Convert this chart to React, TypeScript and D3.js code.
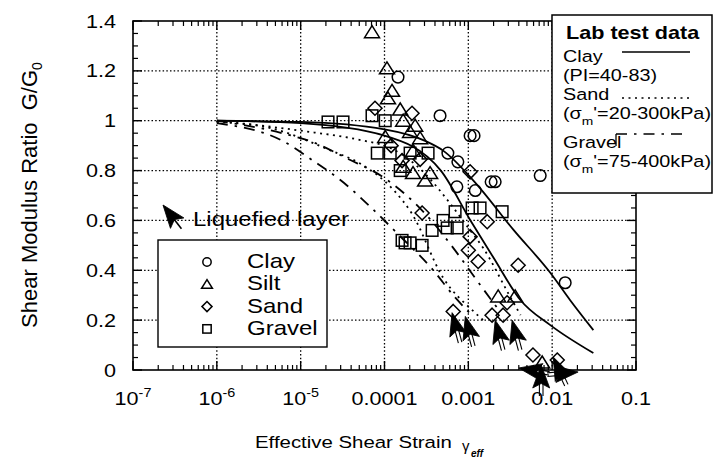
import React from 'react';
import * as d3 from 'd3';

type P = [number, number];

// ---------- axis ticks ----------
const xTickValues = [1e-7, 1e-6, 1e-5, 1e-4, 1e-3, 1e-2, 1e-1];
const xTickBase = ['10', '10', '10', '0.0001', '0.001', '0.01', '0.1'];
const xTickExp = ['-7', '-6', '-5', '', '', '', ''];
const yTickValues = [0, 0.2, 0.4, 0.6, 0.8, 1.0, 1.2, 1.4];
const yTickLabels = ['0', '0.2', '0.4', '0.6', '0.8', '1', '1.2', '1.4'];
const xGridValues = [1e-6, 1e-5, 1e-4, 1e-3, 1e-2];
const yGridValues = [0.2, 0.4, 0.6, 0.8, 1.0, 1.2];

// ---------- field data (effective strain, G/G0) ----------
const clayPoints: P[] = [
  [1.45e-4, 1.175], [4.6e-4, 1.02], [1.05e-3, 0.94], [1.17e-3, 0.94],
  [1.87e-3, 0.755], [2.09e-3, 0.755], [7.2e-3, 0.78], [5.7e-4, 0.87],
  [7.5e-4, 0.835], [7.3e-4, 0.735], [1.21e-3, 0.72], [1.43e-2, 0.35],
];
const siltPoints: P[] = [
  [7.1e-5, 1.355], [1.07e-4, 1.21], [1.23e-4, 1.12], [1.1e-4, 1.09],
  [1.54e-4, 1.045], [1.67e-4, 1.0], [2.32e-4, 0.98], [2.02e-4, 0.955],
  [1.02e-4, 0.935], [2.66e-4, 0.93], [2.19e-4, 0.88], [1.67e-4, 0.815],
  [2.19e-4, 0.79], [3.05e-4, 0.76], [3.5e-4, 0.79], [2.27e-3, 0.295],
  [3.62e-3, 0.295], [7.6e-3, 0.03],
];
const sandPoints: P[] = [
  [7.7e-5, 1.05], [2.13e-4, 1.03], [1.62e-4, 0.84], [2.66e-4, 0.845],
  [2.81e-4, 0.63], [1.05e-3, 0.795], [1.68e-3, 0.595], [1.05e-3, 0.535],
  [1.0e-3, 0.48], [1.31e-3, 0.435], [3.93e-3, 0.42], [2.9e-3, 0.27],
  [1.92e-3, 0.22], [2.6e-3, 0.22], [6.6e-4, 0.235], [5.9e-3, 0.06],
  [1.15e-2, 0.04], [1.2e-4, 0.9],
];
const gravelPoints: P[] = [
  [2.12e-5, 0.995], [3.2e-5, 0.995], [7.1e-5, 1.02], [1.02e-4, 1.0],
  [8.2e-5, 0.87], [1.17e-4, 0.87], [2.02e-4, 0.87], [3.31e-4, 0.87],
  [6.95e-4, 0.635], [1.11e-3, 0.65], [1.38e-3, 0.65], [2.53e-3, 0.635],
  [3.7e-4, 0.56], [5.0e-4, 0.6], [5.6e-4, 0.57], [7.35e-4, 0.57],
  [1.62e-4, 0.52], [1.76e-4, 0.51], [2.02e-4, 0.51], [2.81e-4, 0.5],
  [1.54e-4, 0.8],
];
// liquefied layer arrows: [strain, G/G0 at tip, direction (deg)]
const liquefiedArrows: [number, number, number][] = [
  [6.4e-4, 0.23, -15], [9.2e-4, 0.215, -15], [2.09e-3, 0.2, -15], [3.33e-3, 0.2, -15],
  [4.0e-3, 0.008, -80], [7.4e-3, 0.02, 0], [1.03e-2, 0.052, -25], [2.04e-2, -0.008, 85],
];

// ---------- lab test curves ----------
const clayUpperCurve: P[] = [
  [1e-6, 1.0], [1e-5, 0.995], [1e-4, 0.965], [3e-4, 0.92], [5e-4, 0.88],
  [1.15e-3, 0.76], [3.5e-3, 0.56], [9.5e-3, 0.39], [1.64e-2, 0.28], [3.1e-2, 0.16],
];
const clayLowerCurve: P[] = [
  [1e-6, 1.0], [1e-5, 0.99], [1e-4, 0.94], [4.7e-4, 0.8], [1.06e-3, 0.6],
  [2e-3, 0.45], [4.2e-3, 0.28], [9.5e-3, 0.18], [3.1e-2, 0.068],
];
const sandUpperCurve: P[] = [
  [1e-6, 1.0], [1e-5, 0.96], [5.6e-5, 0.92], [1.1e-4, 0.895], [3e-4, 0.79],
  [6e-4, 0.67], [1e-3, 0.57], [1.5e-3, 0.49], [3.2e-3, 0.29], [4.2e-3, 0.22],
];
const sandLowerCurve: P[] = [
  [1e-6, 0.995], [4.4e-6, 0.97], [2.3e-5, 0.88], [5e-5, 0.83], [1.3e-4, 0.72],
  [2.1e-4, 0.63], [5e-4, 0.37], [1.2e-3, 0.23], [1.5e-3, 0.2],
];
const gravelUpperCurve: P[] = [
  [1e-6, 1.0], [6e-6, 0.95], [1.5e-5, 0.91], [3.5e-5, 0.85], [1e-4, 0.77],
  [3e-4, 0.63], [6.6e-4, 0.49], [1.2e-3, 0.37], [2.2e-3, 0.25],
];
const gravelLowerCurve: P[] = [
  [1e-6, 0.99], [6e-6, 0.92], [1.4e-5, 0.84], [3.3e-5, 0.75], [7e-5, 0.65],
  [1.5e-4, 0.54], [3.6e-4, 0.41], [7e-4, 0.29], [1.1e-3, 0.22],
];

const symbolLegend = ['Clay', 'Silt', 'Sand', 'Gravel'];

// ---------- layout ----------
const W = 715;
const H = 462;
const L = 133, R = 636, T = 21, B = 370;
const FONT = 'Liberation Sans, Arial, Helvetica, sans-serif';

const x = d3.scaleLog().domain([1e-7, 1e-1]).range([L, R]);
const y = d3.scaleLinear().domain([0, 1.4]).range([B, T]);

const line = d3.line<P>().x(d => x(d[0])).y(d => y(d[1])).curve(d3.curveMonotoneX);

const HT = ({ tx, ty, size, anchor = 'start', weight = 'normal', children }: any) => (
  <text transform={`translate(${tx},${ty}) scale(1.2,1)`} fontSize={size} textAnchor={anchor}
    fontWeight={weight} fill="#000">{children}</text>
);

type Kind = 'circle' | 'triangle' | 'diamond' | 'square';
const Marker = ({ cx, cy, kind, s = 1 }: { cx: number; cy: number; kind: Kind; s?: number }) => {
  const common = { fill: 'none', stroke: '#000', strokeWidth: 1.5 };
  if (kind === 'circle') return <circle cx={cx} cy={cy} r={5.8 * s} {...common} />;
  if (kind === 'square') return <rect x={cx - 5.8 * s} y={cy - 5.8 * s} width={11.6 * s} height={11.6 * s} {...common} />;
  if (kind === 'triangle')
    return <path d={`M${cx},${cy - 6.5 * s}L${cx + 7.5 * s},${cy + 5.5 * s}L${cx - 7.5 * s},${cy + 5.5 * s}Z`} {...common} />;
  return <path d={`M${cx},${cy - 7 * s}L${cx + 7 * s},${cy}L${cx},${cy + 7 * s}L${cx - 7 * s},${cy}Z`} {...common} />;
};

const HEAD = 'M0,0L8.5,23L0,18.5L-8.5,23Z';
const Arrow = ({ ax, ay, angle }: { ax: number; ay: number; angle: number }) => (
  <g transform={`translate(${ax},${ay}) rotate(${angle})`}>
    <path d={HEAD} fill="#000" stroke="#000" strokeWidth={0.8} strokeLinejoin="round" />
    <line x1={-1.8} y1={18} x2={-1.8} y2={31} stroke="#000" strokeWidth={1.1} />
    <line x1={1.8} y1={18} x2={1.8} y2={31} stroke="#000" strokeWidth={1.1} />
  </g>
);

export default function App() {
  const minorX = x.ticks().filter(v => Math.abs(Math.log10(v) - Math.round(Math.log10(v))) > 1e-6);
  const minorY = d3.range(0, 29).map(i => i * 0.05).filter(v => Math.abs(v / 0.2 - Math.round(v / 0.2)) > 1e-6);
  const groups: [P[], Kind][] = [
    [clayPoints, 'circle'], [siltPoints, 'triangle'], [sandPoints, 'diamond'], [gravelPoints, 'square'],
  ];
  const legendKinds: Kind[] = ['circle', 'triangle', 'diamond', 'square'];
  const dotted = '1.5,2.2';
  return (
    <svg width={W} height={H} style={{ position: 'absolute', left: 0, top: 0, background: '#fff' }}
      fontFamily={FONT}>
      <rect x={0} y={0} width={W} height={H} fill="#fff" />
      {/* grid */}
      {xGridValues.map(v => (
        <line key={'gx' + v} x1={x(v)} x2={x(v)} y1={T} y2={B} stroke="#000" strokeWidth={1.3} strokeDasharray={dotted} />
      ))}
      {yGridValues.map(v => (
        <line key={'gy' + v} x1={L} x2={R} y1={y(v)} y2={y(v)} stroke="#000" strokeWidth={1.3} strokeDasharray={dotted} />
      ))}
      {/* curves */}
      <path d={line(clayUpperCurve)!} fill="none" stroke="#000" strokeWidth={1.8} />
      <path d={line(clayLowerCurve)!} fill="none" stroke="#000" strokeWidth={1.8} />
      <path d={line(sandUpperCurve)!} fill="none" stroke="#000" strokeWidth={1.8} strokeDasharray="2,4.5" />
      <path d={line(sandLowerCurve)!} fill="none" stroke="#000" strokeWidth={1.8} strokeDasharray="2,4.5" />
      <path d={line(gravelUpperCurve)!} fill="none" stroke="#000" strokeWidth={1.8} strokeDasharray="11,7,2.5,7" />
      <path d={line(gravelLowerCurve)!} fill="none" stroke="#000" strokeWidth={1.8} strokeDasharray="11,7,2.5,7" />
      {/* points */}
      {groups.map(([pts, kind]) =>
        pts.map((d, i) => <Marker key={kind + i} cx={x(d[0])} cy={y(d[1])} kind={kind} />)
      )}
      {liquefiedArrows.map((d, i) => (
        <Arrow key={'ar' + i} ax={x(d[0])} ay={y(d[1])} angle={d[2]} />
      ))}
      {/* frame */}
      <rect x={L} y={T} width={R - L} height={B - T} fill="none" stroke="#000" strokeWidth={1.6} />
      {/* ticks */}
      {minorX.map(v => (
        <g key={'mx' + v}>
          <line x1={x(v)} x2={x(v)} y1={B} y2={B - 5} stroke="#000" strokeWidth={1.2} />
          <line x1={x(v)} x2={x(v)} y1={T} y2={T + 5} stroke="#000" strokeWidth={1.2} />
        </g>
      ))}
      {xTickValues.map(v => (
        <g key={'Mx' + v}>
          <line x1={x(v)} x2={x(v)} y1={B} y2={B - 9} stroke="#000" strokeWidth={1.4} />
          <line x1={x(v)} x2={x(v)} y1={T} y2={T + 9} stroke="#000" strokeWidth={1.4} />
        </g>
      ))}
      {minorY.map(v => (
        <g key={'my' + v}>
          <line x1={L} x2={L + 5} y1={y(v)} y2={y(v)} stroke="#000" strokeWidth={1.2} />
          <line x1={R} x2={R - 5} y1={y(v)} y2={y(v)} stroke="#000" strokeWidth={1.2} />
        </g>
      ))}
      {yTickValues.map(v => (
        <g key={'My' + v}>
          <line x1={L} x2={L + 9} y1={y(v)} y2={y(v)} stroke="#000" strokeWidth={1.4} />
          <line x1={R} x2={R - 9} y1={y(v)} y2={y(v)} stroke="#000" strokeWidth={1.4} />
        </g>
      ))}
      {/* tick labels */}
      {yTickValues.map((v, i) => (
        <HT key={'yl' + v} tx={116} ty={y(v) + 6.5} size={18} anchor="end">{yTickLabels[i]}</HT>
      ))}
      {xTickValues.map((v, i) => (
        <HT key={'xl' + v} tx={x(v)} ty={405} size={18} anchor="middle">
          {xTickBase[i]}
          {xTickExp[i] && <tspan fontSize={12} dy={-8}>{xTickExp[i]}</tspan>}
        </HT>
      ))}
      {/* axis titles */}
      <text transform="translate(37,195) rotate(-90)" fontSize={22} textAnchor="middle">
        {'Shear Modulus Ratio\u00a0\u00a0G/G'}<tspan fontSize={14} dy={5}>0</tspan>
      </text>
      <HT tx={255} ty={448} size={17}>Effective Shear Strain</HT>
      <text x={462} y={451} fontSize={15}>γ</text>
      <text x={471} y={457} fontSize={10} fontWeight="bold" fontStyle="italic">eff</text>

      {/* liquefied layer note */}
      <g transform="translate(163,205) rotate(-38)">
        <path d={HEAD} fill="#000" stroke="#000" strokeWidth={0.8} strokeLinejoin="round" />
        <line x1={0} y1={18} x2={0} y2={30} stroke="#000" strokeWidth={1.6} />
      </g>
      <HT tx={193} ty={226} size={20}>Liquefied layer</HT>

      {/* symbol legend */}
      <rect x={158} y={240} width={169} height={107} fill="#fff" stroke="#000" strokeWidth={1.4} />
      {symbolLegend.map((name, i) => (
        <g key={name}>
          <Marker cx={207} cy={262 + i * 22.3} kind={legendKinds[i]} s={0.72} />
          <HT tx={247} ty={268 + i * 22.3} size={20}>{name}</HT>
        </g>
      ))}

      {/* lab test legend */}
      <rect x={552} y={15} width={160} height={178} fill="#fff" stroke="#000" strokeWidth={1.5} />
      <HT tx={566} ty={39} size={18} weight="bold">Lab test data</HT>
      <HT tx={563} ty={62} size={16.5}>Clay</HT>
      <line x1={622} x2={690} y1={52} y2={52} stroke="#000" strokeWidth={1.6} />
      <HT tx={563} ty={81} size={16.5}>(PI=40-83)</HT>
      <HT tx={563} ty={100} size={16.5}>Sand</HT>
      <line x1={622} x2={692} y1={98} y2={98} stroke="#000" strokeWidth={1.6} strokeDasharray="2,4.5" />
      <HT tx={563} ty={119} size={16.5}>
        (σ<tspan fontSize={11.5} dy={6}>m</tspan><tspan dy={-6}>'=20-300kPa)</tspan>
      </HT>
      <HT tx={563} ty={148} size={16.5}>Gravel</HT>
      <line x1={616} x2={688} y1={134} y2={134} stroke="#000" strokeWidth={1.6} strokeDasharray="11,7,2.5,7" />
      <line x1={616} x2={616} y1={134} y2={146} stroke="#000" strokeWidth={1.3} />
      <HT tx={563} ty={167} size={16.5}>
        (σ<tspan fontSize={11.5} dy={6}>m</tspan><tspan dy={-6}>'=75-400kPa)</tspan>
      </HT>
    </svg>
  );
}
